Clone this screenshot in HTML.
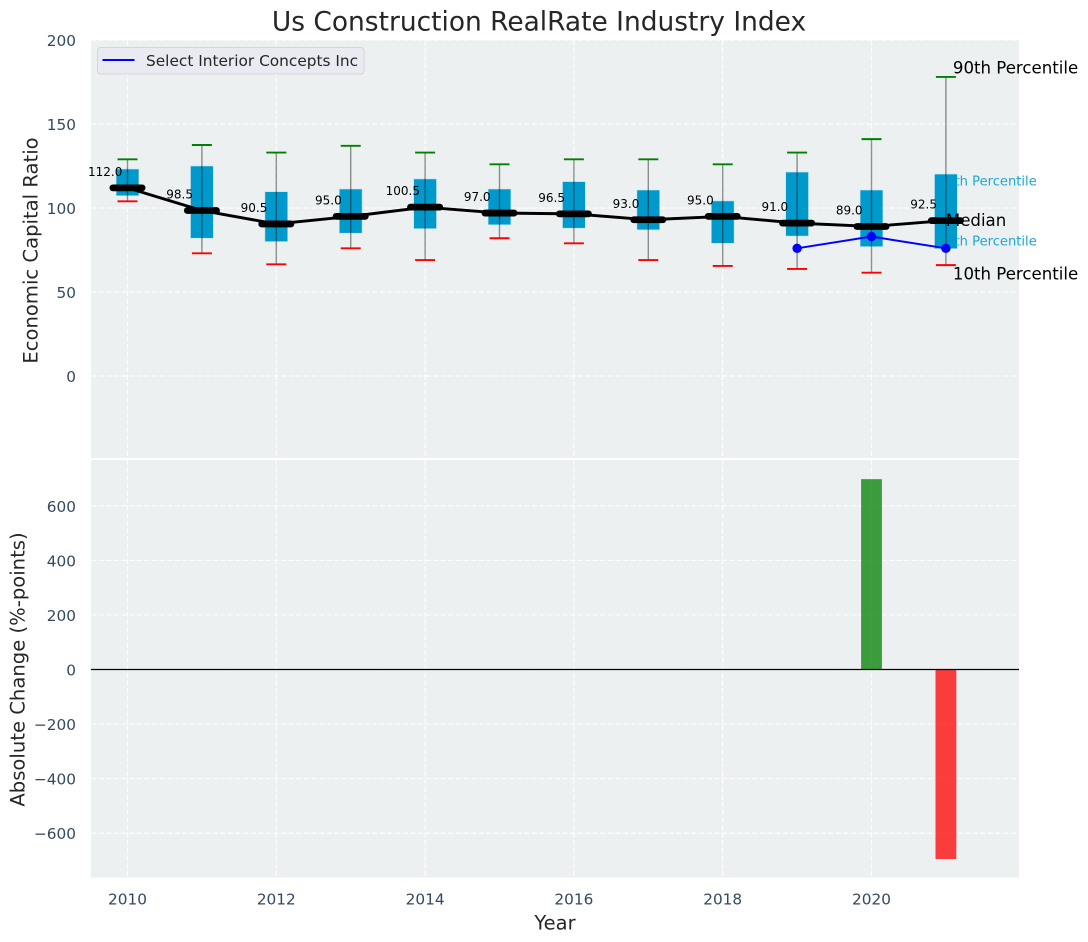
<!DOCTYPE html>
<html lang="en">
<head>
<meta charset="utf-8">
<title>Us Construction RealRate Industry Index</title>
<style>
html,body{margin:0;padding:0;background:#fff;}
svg{display:block;font-family:"DejaVu Sans","Liberation Sans",sans-serif;}
</style>
</head>
<body>
<svg id="chart" xmlns="http://www.w3.org/2000/svg" width="1088" height="942" viewBox="0 0 1088 942"></svg>
<script>
const years = [2010,2011,2012,2013,2014,2015,2016,2017,2018,2019,2020,2021];
const p90 = [129,137.5,133,137,133,126,129,129,126,133,141,178];
const p75 = [123.2,125,109.7,111.3,117.3,111.3,115.7,110.7,104.2,121.4,110.7,120.2];
const medians = [112,98.5,90.5,95,100.5,97,96.5,93,95,91,89,92.5];
const p25 = [107.3,82,80,85,87.7,90,88,87,79,83.3,77,75.8];
const p10 = [104,73,66.5,76,69,82,79,69,65.5,63.7,61.5,66];
const companyYears = [2019,2020,2021];
const companyValues = [76,83,76];
const changeYears = [2020,2021];
const changeValues = [698,-695];
const xTicks = [2010,2012,2014,2016,2018,2020];
const topTicks = [0,50,100,150,200];
const bottomTicks = [-600,-400,-200,0,200,400,600];

const svg = document.getElementById('chart');
const NS = 'http://www.w3.org/2000/svg';
const X = v => 127.5 + (v - 2010) * 74.4;
const YT = v => 376 - v * 1.68;
const YB = v => 669.5 - v * 0.2727;
const LEFT = 91, RIGHT = 1019;

function mk(tag, props, parent){
  const el = document.createElementNS(NS, tag);
  for (const k in props) el.setAttribute(k, props[k]);
  (parent || svg).appendChild(el);
  return el;
}
function txt(s, x, y, size, fill, anchor, parent){
  const t = mk('text', {x:x, y:y, 'font-size':size, fill:fill, 'text-anchor':anchor||'start', 'dominant-baseline':'central'}, parent);
  t.textContent = s;
  return t;
}

// axes backgrounds
let el = mk('rect', {x:LEFT, y:40, width:RIGHT-LEFT, height:418, fill:'#ecf0f1'});


el = mk('rect', {x:LEFT, y:460, width:RIGHT-LEFT, height:417.5, fill:'#ecf0f1'});



// grid
const gridStyle = {stroke:'#ffffff', 'stroke-width':1.2, 'stroke-dasharray':'5.3 2.3', opacity:0.9};
topTicks.forEach(v => {
  const l = mk('line', Object.assign({x1:LEFT, x2:RIGHT, y1:YT(v), y2:YT(v)}, gridStyle));
  
  
});
bottomTicks.forEach(v => {
  const l = mk('line', Object.assign({x1:LEFT, x2:RIGHT, y1:YB(v), y2:YB(v)}, gridStyle));
  
  
});
xTicks.forEach(v => {
  const a = mk('line', Object.assign({x1:X(v), x2:X(v), y1:40, y2:458}, gridStyle));
  
  
  const b = mk('line', Object.assign({x1:X(v), x2:X(v), y1:460, y2:877.5}, gridStyle));
  
  
});

// percentile annotations on the last year (beneath the box)
const lastIdx = years.length - 1;
const lastX = X(years[lastIdx]);
el = txt('75th Percentile', lastX - 8, YT(p75[lastIdx]) + 8, 13.1, '#1ea7d3');


el = txt('25th Percentile', lastX - 8, YT(p25[lastIdx]) - 6.5, 13.1, '#1ea7d3');



// boxes, whiskers, caps
years.forEach((yr, i) => {
  const x = X(yr);
  const box = mk('rect', {x:x-11.4, y:YT(p75[i]), width:22.8, height:YT(p25[i])-YT(p75[i]), fill:'#0099cc', stroke:'#bfe3ef', 'stroke-width':0.6});
  
  
  const wh = mk('line', {x1:x, x2:x, y1:YT(p90[i]), y2:YT(p10[i]), stroke:'#000000', 'stroke-opacity':0.42, 'stroke-width':1.4});
  
  
  const hi = mk('line', {x1:x-10, x2:x+10, y1:YT(p90[i]), y2:YT(p90[i]), stroke:'#008000', 'stroke-width':1.9});
  
  
  const lo = mk('line', {x1:x-10, x2:x+10, y1:YT(p10[i]), y2:YT(p10[i]), stroke:'#ff0000', 'stroke-width':1.9});
  
  
});

// median trend line
el = mk('polyline', {points:years.map((yr,i)=>X(yr)+','+YT(medians[i])).join(' '), fill:'none', stroke:'#000000', 'stroke-width':2.9, 'stroke-linejoin':'round'});


years.forEach((yr, i) => {
  const x = X(yr), y = YT(medians[i]);
  const m = mk('line', {x1:x-14.6, x2:x+14.6, y1:y, y2:y, stroke:'#000000', 'stroke-width':6.8, 'stroke-linecap':'round'});
  
  
});

// company series
el = mk('polyline', {points:companyYears.map((yr,i)=>X(yr)+','+YT(companyValues[i])).join(' '), fill:'none', stroke:'#0000ff', 'stroke-width':2});


companyYears.forEach((yr, i) => {
  const c = mk('circle', {cx:X(yr), cy:YT(companyValues[i]), r:4.7, fill:'#0000ff'});
  
  
});

// median value labels
years.forEach((yr, i) => {
  const t = txt(medians[i].toFixed(1), X(yr) - 22.3, YT(medians[i]) - 16, 12, '#000000', 'middle');
  
  
});

el = txt('Median', lastX, YT(medians[lastIdx]), 16.6, '#000000');


el = txt('90th Percentile', lastX + 7, YT(p90[lastIdx]) - 9, 16.6, '#000000');


el = txt('10th Percentile', lastX + 7, YT(p10[lastIdx]) + 9, 16.6, '#000000');



// change bars
changeYears.forEach((yr, i) => {
  const v = changeValues[i];
  const y0 = YB(Math.max(v,0)), y1 = YB(Math.min(v,0));
  const b = mk('rect', {x:X(yr)-10.4, y:y0, width:20.8, height:y1-y0, fill:v>=0?'#008000':'#ff0000', 'fill-opacity':0.75});
  
  
});
el = mk('line', {x1:LEFT, x2:RIGHT, y1:YB(0), y2:YB(0), stroke:'#000000', 'stroke-width':1.3});



// tick labels
const tickColor = '#34495e';
topTicks.forEach(v => {
  const t = txt(String(v), 76, YT(v) + 1, 15.3, tickColor, 'end');
  
  
});
bottomTicks.forEach(v => {
  const t = txt(String(v).replace('-', '\u2212'), 76, YB(v) + 1, 15.3, tickColor, 'end');
  
  
});
xTicks.forEach(v => {
  const t = txt(String(v), X(v), 899.5, 15.3, tickColor, 'middle');
  
  
});

// titles
el = txt('Us Construction RealRate Industry Index', 539, 22, 26.45, '#262626', 'middle');


el = txt('Year', 555, 923, 19.5, '#262626', 'middle');


el = txt('Economic Capital Ratio', 0, 0, 19.6, '#262626', 'middle');
el.setAttribute('transform', 'translate(31,250.5) rotate(-90)');


el = txt('Absolute Change (%-points)', 0, 0, 19.6, '#262626', 'middle');
el.setAttribute('transform', 'translate(18,669.5) rotate(-90)');



// legend
const legend = mk('g', {});


el = mk('rect', {x:97.5, y:47.5, width:266.5, height:26.5, rx:3, fill:'#eaeaf2', stroke:'#d3d5da', 'stroke-width':1}, legend);


el = mk('line', {x1:102.5, x2:134.5, y1:60, y2:60, stroke:'#0000ff', 'stroke-width':2}, legend);


el = txt('Select Interior Concepts Inc', 146, 61, 15.35, '#262626', 'start', legend);


</script>
</body>
</html>
